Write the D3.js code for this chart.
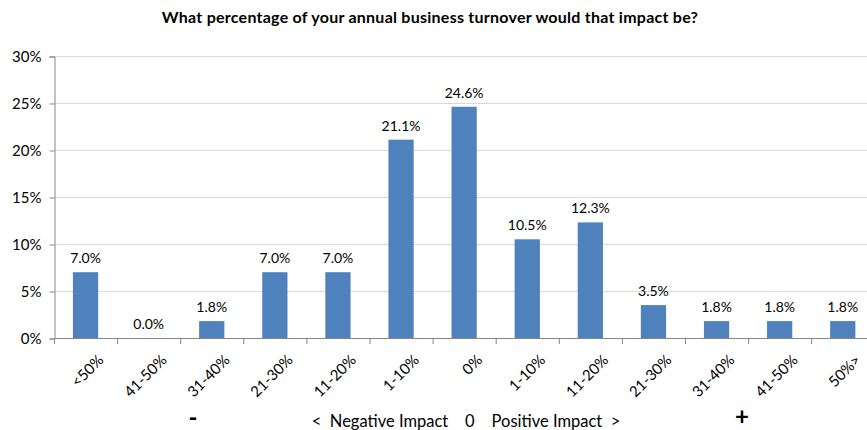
<!DOCTYPE html>
<html lang="en">
<head>
<meta charset="utf-8">
<script src="https://d3js.org/d3.v7.min.js"></script>
<style>
  body { margin: 0; background: #fff; }
  text { font-family: Lato, "Open Sans", sans-serif; fill: #000; }
</style>
</head>
<body>
</body>
<script type="text/javascript">

var categories = ["<50%", "41-50%", "31-40%", "21-30%", "11-20%", "1-10%", "0%",
                  "1-10%", "11-20%", "21-30%", "31-40%", "41-50%", "50%>"]
var values = [7.0, 0.0, 1.8, 7.0, 7.0, 21.1, 24.6, 10.5, 12.3, 3.5, 1.8, 1.8, 1.8]
var yTicks = [0, 5, 10, 15, 20, 25, 30]

var W = 867, H = 430
var plotLeft = 54, plotTop = 56, plotBottom = 338
var step = 63.1

var svg = d3.select("body")
  .append("svg")
  .attr("width", W)
  .attr("height", H)

// index-based band scale so duplicate labels stay separate
var x = d3.scaleBand()
  .domain(d3.range(categories.length))
  .range([plotLeft, plotLeft + step * categories.length])
  .paddingInner(0.6)
  .paddingOuter(0.3)

var y = d3.scaleLinear().domain([0, 30]).range([plotBottom, plotTop])

// gridlines
svg.append("g").selectAll("line")
  .data(yTicks.slice(1))
  .enter().append("line")
  .attr("x1", plotLeft).attr("x2", W)
  .attr("y1", d => y(d) + 0.5).attr("y2", d => y(d) + 0.5)
  .attr("stroke", "#d9d9d9")

// y axis
var yAxis = svg.append("g")
  .attr("transform", "translate(" + (plotLeft + 0.5) + ",0.5)")
  .call(d3.axisLeft(y).tickValues(yTicks).tickSize(5).tickPadding(8).tickFormat(d => d + "%"))
yAxis.select(".domain").attr("stroke", "#868686")
yAxis.selectAll(".tick line").attr("stroke", "#868686")
yAxis.selectAll(".tick text").attr("font-size", 15).style("font-family", "Lato, sans-serif").attr("fill", "#000")

// x axis line and boundary ticks
svg.append("line")
  .attr("x1", plotLeft).attr("x2", W)
  .attr("y1", plotBottom + 0.5).attr("y2", plotBottom + 0.5)
  .attr("stroke", "#868686")
svg.append("g").selectAll("line")
  .data(d3.range(categories.length + 1))
  .enter().append("line")
  .attr("x1", d => plotLeft + d * step + 0.5).attr("x2", d => plotLeft + d * step + 0.5)
  .attr("y1", plotBottom).attr("y2", plotBottom + 6)
  .attr("stroke", "#868686")

// bars
svg.append("g").selectAll("rect")
  .data(values)
  .enter().append("rect")
  .attr("x", (d, i) => x(i))
  .attr("width", x.bandwidth())
  .attr("y", d => y(d))
  .attr("height", d => plotBottom - y(d))
  .attr("fill", "#4f81bd")

// value labels
svg.append("g").selectAll("text")
  .data(values)
  .enter().append("text")
  .attr("x", (d, i) => x(i) + x.bandwidth() / 2)
  .attr("y", d => y(d) - 9)
  .attr("text-anchor", "middle")
  .attr("font-size", 14)
  .text(d => d.toFixed(1) + "%")

// category labels, rotated
svg.append("g").selectAll("text")
  .data(categories)
  .enter().append("text")
  .attr("text-anchor", "end")
  .attr("font-size", 15)
  .attr("transform", (d, i) => "translate(" + (x(i) + x.bandwidth() / 2 + 19) + "," + (plotBottom + 23) + ") rotate(-45)")
  .text(d => d)

// title
svg.append("text")
  .attr("x", 430).attr("y", 23)
  .attr("text-anchor", "middle")
  .attr("font-size", 16)
  .attr("font-weight", "bold")
  .attr("letter-spacing", 0.25)
  .text("What percentage of your annual business turnover would that impact be?")

// bottom annotation
svg.append("text")
  .attr("x", 193).attr("y", 426)
  .attr("text-anchor", "middle")
  .attr("font-size", 24)
  .attr("font-weight", "bold")
  .text("-")
svg.append("text")
  .attr("x", 466).attr("y", 427)
  .attr("text-anchor", "middle")
  .attr("font-size", 16.5)
  .text("<\u00a0\u00a0Negative Impact\u00a0\u00a0\u00a0\u00a00\u00a0\u00a0\u00a0\u00a0Positive Impact\u00a0\u00a0>")
svg.append("text")
  .attr("x", 742).attr("y", 425)
  .attr("text-anchor", "middle")
  .attr("font-size", 24)
  .attr("font-weight", "bold")
  .text("+")

</script>
</html>
